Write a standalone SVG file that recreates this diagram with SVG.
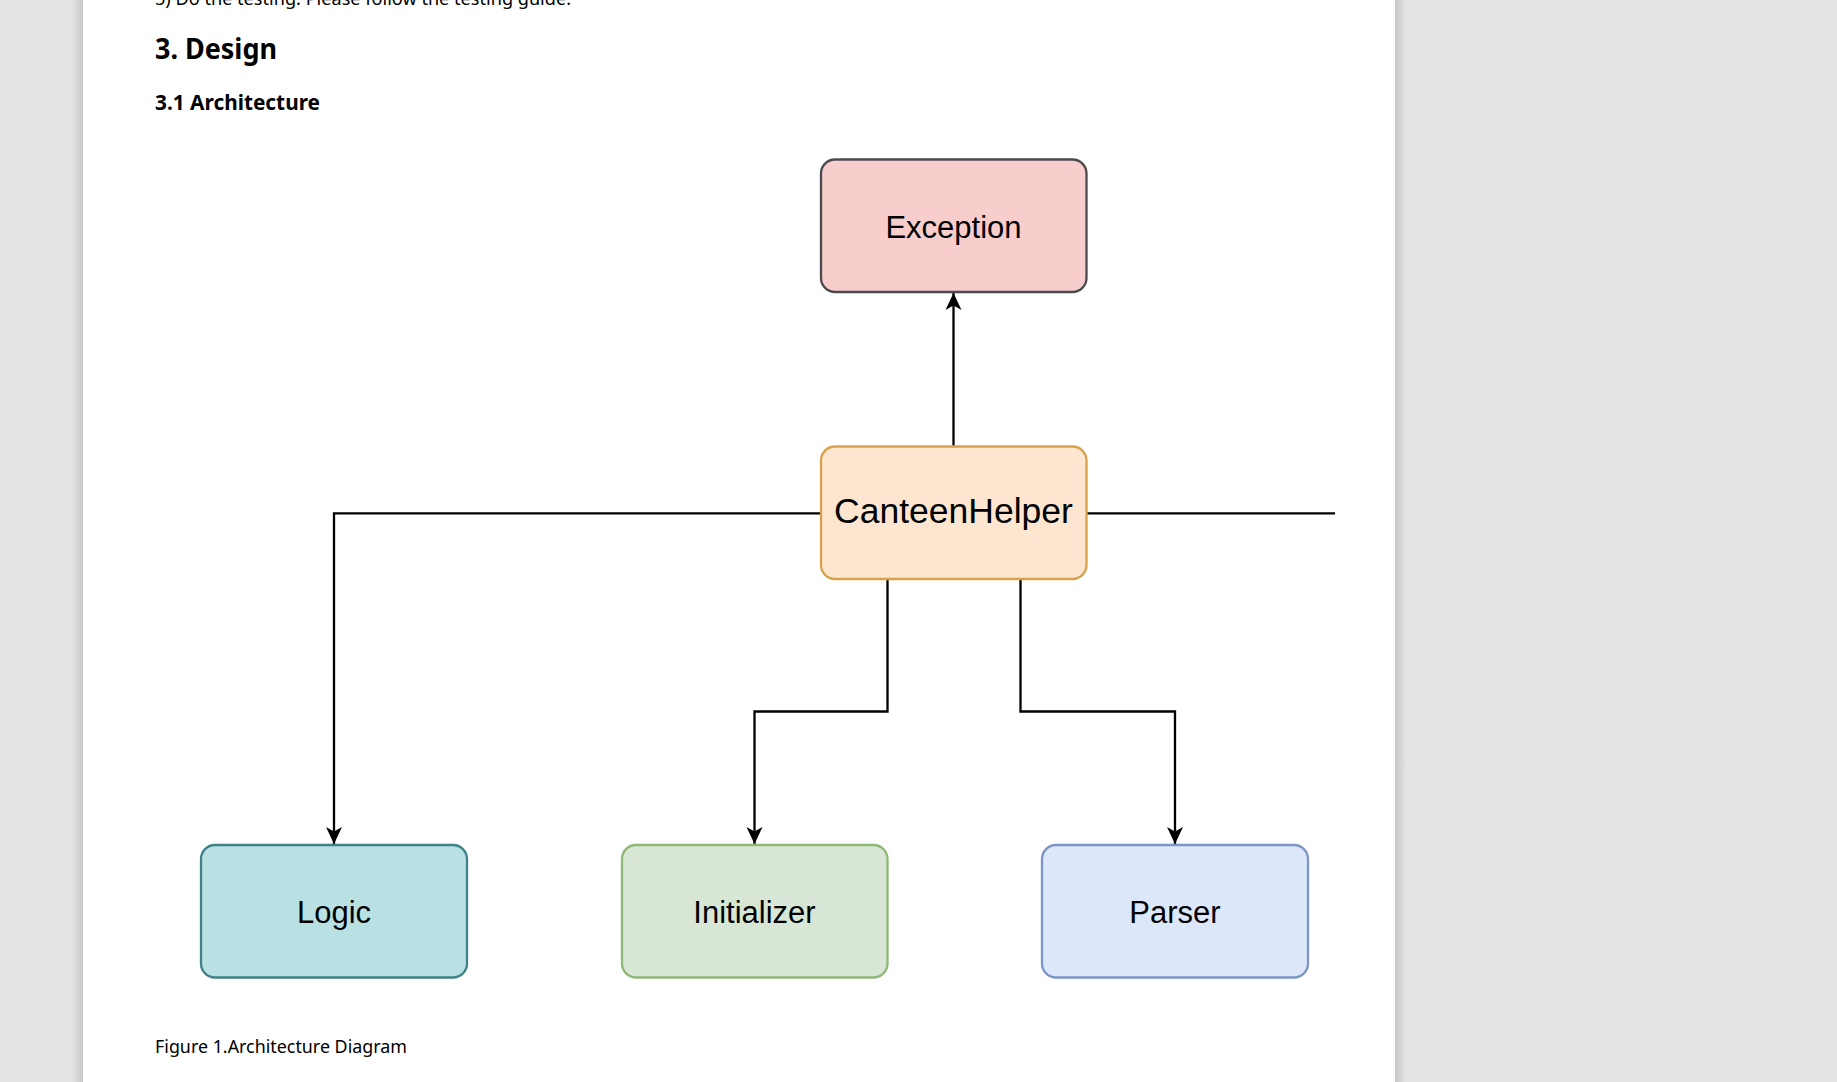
<svg xmlns="http://www.w3.org/2000/svg" width="1837" height="1082" viewBox="0 0 1837 1082">
  <defs>
    <linearGradient id="shL" x1="0" y1="0" x2="1" y2="0">
      <stop offset="0" stop-color="#e4e4e4"/>
      <stop offset="1" stop-color="#c8c8c8"/>
    </linearGradient>
    <linearGradient id="shR" x1="0" y1="0" x2="1" y2="0">
      <stop offset="0" stop-color="#c8c8c8"/>
      <stop offset="1" stop-color="#e4e4e4"/>
    </linearGradient>
    <marker id="arrow" viewBox="0 0 17 16" refX="17" refY="8" markerWidth="17" markerHeight="16" markerUnits="userSpaceOnUse" orient="auto" overflow="visible">
      <path d="M0,0 L17,8 L0,16 L4.5,8 Z" fill="#000"/>
    </marker>
    <style>
      .doc { font-family: "Noto Sans", "Open Sans", "DejaVu Sans", sans-serif; fill: #000; }
      .box { stroke-width: 2.3; }
      .lbl { font-family: "Liberation Sans", Arial, sans-serif; font-size: 31px; fill: #000; text-anchor: middle; }
      .conn { fill: none; stroke: #000; stroke-width: 2.3; }
    </style>
  </defs>

  <!-- background & page -->
  <rect x="0" y="0" width="1837" height="1082" fill="#e4e4e4"/>
  <rect x="71" y="0" width="12" height="1082" fill="url(#shL)"/>
  <rect x="1395" y="0" width="11" height="1082" fill="url(#shR)"/>
  <rect x="83" y="0" width="1312" height="1082" fill="#ffffff"/>

  <!-- document text -->
  <text class="doc" x="155" y="5" font-size="18" textLength="416" lengthAdjust="spacingAndGlyphs">5) Do the testing. Please follow the testing guide.</text>
  <text class="doc" x="155" y="59" font-size="28" font-weight="bold" textLength="122" lengthAdjust="spacingAndGlyphs">3. Design</text>
  <text class="doc" x="155" y="110" font-size="21" font-weight="bold" textLength="165" lengthAdjust="spacingAndGlyphs">3.1 Architecture</text>
  <text class="doc" x="155" y="1053" font-size="18" textLength="252" lengthAdjust="spacingAndGlyphs">Figure 1.Architecture Diagram</text>

  <!-- connectors -->
  <g id="connectors">
    <path class="conn" d="M953.5,446 L953.5,293" marker-end="url(#arrow)"/>
    <path class="conn" d="M821,513.3 L334,513.3 L334,844" marker-end="url(#arrow)"/>
    <path class="conn" d="M887.5,579 L887.5,711.5 L754.5,711.5 L754.5,844" marker-end="url(#arrow)"/>
    <path class="conn" d="M1020.5,579 L1020.5,711.5 L1175,711.5 L1175,844" marker-end="url(#arrow)"/>
    <path class="conn" d="M1087,513.3 L1335,513.3"/>
  </g>

  <!-- nodes -->
  <g id="node-exception">
    <rect class="box" x="821" y="159.5" width="265.5" height="132.5" rx="14" fill="#f8cecc" stroke="#4a4a4f"/>
    <text class="lbl" x="953.5" y="238">Exception</text>
  </g>
  <g id="node-canteenhelper">
    <rect class="box" x="821" y="446.5" width="265.5" height="132.5" rx="14" fill="#fce6cf" stroke="#d9a24a"/>
    <text class="lbl" x="953.5" y="523" style="font-size:35.5px">CanteenHelper</text>
  </g>
  <g id="node-logic">
    <rect class="box" x="201" y="845" width="266" height="132.5" rx="14" fill="#b9e1e3" stroke="#3f8389"/>
    <text class="lbl" x="334" y="923">Logic</text>
  </g>
  <g id="node-initializer">
    <rect class="box" x="622" y="845" width="265.5" height="132.5" rx="14" fill="#d8e7d5" stroke="#8fb877"/>
    <text class="lbl" x="754.5" y="923">Initializer</text>
  </g>
  <g id="node-parser">
    <rect class="box" x="1042" y="845" width="266" height="132.5" rx="14" fill="#dce7f9" stroke="#7b96c4"/>
    <text class="lbl" x="1175" y="923">Parser</text>
  </g>
</svg>
